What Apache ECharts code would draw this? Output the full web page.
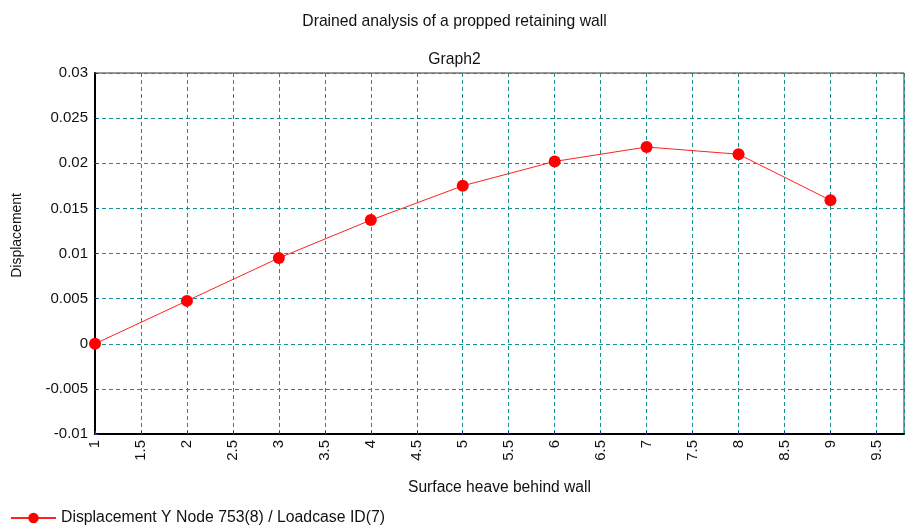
<!DOCTYPE html>
<html>
<head>
<meta charset="utf-8">
<script src="https://cdn.jsdelivr.net/npm/echarts@6/dist/echarts.min.js"></script>
<style>html,body{margin:0;padding:0;background:#fff}#c{width:909px;height:525px}</style>
</head>
<body>
<div id="c"></div>
<script>
const titleText = 'Drained analysis of a propped retaining wall';
const subTitleText = 'Graph2';
const xAxisTitle = 'Surface heave behind wall';
const yAxisTitle = 'Displacement';
const seriesName = 'Displacement Y Node 753(8) / Loadcase ID(7)';
const xValues = [1, 2, 3, 4, 5, 6, 7, 8, 9];
const displacement = [0.0, 0.00475, 0.0095, 0.0137, 0.0175, 0.0202, 0.0218, 0.0210, 0.0159];
const xMin = 1, xMax = 9.8, xStep = 0.5;
const yMin = -0.01, yMax = 0.03, yStep = 0.005;

const font = '"Liberation Sans", Arial, sans-serif';
const chart = echarts.init(document.getElementById('c'));
const gridColor = '#139090';
chart.setOption({
  animation: false,
  backgroundColor: '#fff',
  title: [
    {text: titleText, left: 'center', top: 9, textStyle: {fontFamily: font, fontSize: 15.7, fontWeight: 'normal', color: '#111'}},
    {text: subTitleText, left: 'center', top: 47, textStyle: {fontFamily: font, fontSize: 15.7, fontWeight: 'normal', color: '#111'}}
  ],
  grid: {left: 95, top: 73, right: 5, bottom: 91, show: true, borderColor: '#333', borderWidth: 1},
  xAxis: {
    type: 'value', min: xMin, max: xMax, interval: xStep,
    name: xAxisTitle, nameLocation: 'middle', nameGap: 46,
    nameTextStyle: {fontFamily: font, fontSize: 15.6, color: '#111'},
    axisLine: {show: true, onZero: false, lineStyle: {color: '#000', width: 2}},
    axisTick: {show: true, inside: true, length: 3, lineStyle: {color: '#2233cc'}},
    axisLabel: {rotate: 90, margin: 6, showMaxLabel: false, fontFamily: font, fontSize: 15, color: '#111',
      formatter: v => String(v)},
    splitLine: {show: true, lineStyle: {color: gridColor, type: [4, 3], width: 1}}
  },
  yAxis: {
    type: 'value', min: yMin, max: yMax, interval: yStep,
    axisLine: {show: true, onZero: false, lineStyle: {color: '#000', width: 2}},
    axisTick: {show: true, inside: true, length: 3, lineStyle: {color: '#2233cc'}},
    axisLabel: {margin: 7, fontFamily: font, fontSize: 15, color: '#111', formatter: v => String(+v.toFixed(4))},
    splitLine: {show: true, lineStyle: {color: gridColor, type: [4, 3], width: 1}}
  },
  legend: {
    left: 5, top: 505, itemWidth: 45, itemHeight: 13,
    textStyle: {fontFamily: font, fontSize: 15.8, color: '#111'},
    data: [seriesName]
  },
  graphic: [{
    type: 'text', left: 10, top: 193, rotation: Math.PI / 2,
    style: {text: yAxisTitle, font: '14px ' + font, fill: '#111'}
  }],
  series: [{
    name: seriesName, type: 'line',
    data: xValues.map((x, i) => [x, displacement[i]]),
    symbol: 'circle', symbolSize: 12,
    itemStyle: {color: '#ff0000'},
    lineStyle: {color: '#ff2020', width: 1}
  }]
});
</script>
</body>
</html>
